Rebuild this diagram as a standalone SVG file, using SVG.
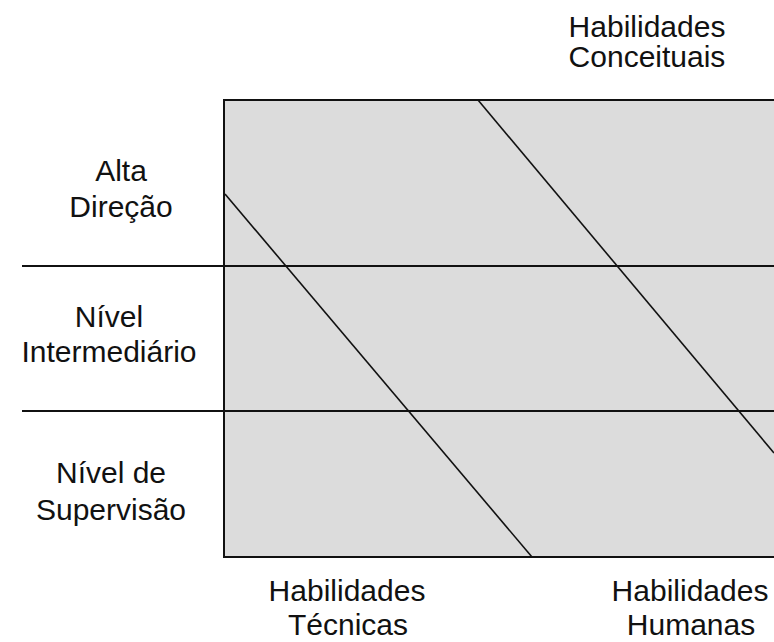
<svg xmlns="http://www.w3.org/2000/svg" width="774" height="642" viewBox="0 0 774 642">
  <style>
    .lbl { font-family: "Liberation Sans", Arial, sans-serif; font-size: 30px; fill: #111; text-anchor: middle; }
    .edge { stroke: #111; stroke-width: 2; fill: none; }
    .diag { stroke: #111; stroke-width: 1.6; fill: none; }
  </style>
  <rect width="774" height="642" fill="#ffffff"/>
  <g id="matrix">
    <rect x="224" y="100" width="560" height="457" fill="#dcdcdc" stroke="#111" stroke-width="2"/>
  </g>
  <g id="connectors">
    <line class="edge" x1="22" y1="266" x2="774" y2="266"/>
    <line class="edge" x1="22" y1="411" x2="774" y2="411"/>
    <line class="diag" x1="225" y1="194" x2="532" y2="557"/>
    <line class="diag" x1="478" y1="100" x2="774" y2="453"/>
  </g>
  <g id="label-conceituais">
    <text class="lbl" x="647" y="37">Habilidades</text>
    <text class="lbl" x="647" y="67">Conceituais</text>
  </g>
  <g id="label-alta">
    <text class="lbl" x="121" y="181">Alta</text>
    <text class="lbl" x="121" y="217">Direção</text>
  </g>
  <g id="label-intermediario">
    <text class="lbl" x="109" y="327">Nível</text>
    <text class="lbl" x="109" y="362">Intermediário</text>
  </g>
  <g id="label-supervisao">
    <text class="lbl" x="111" y="483">Nível de</text>
    <text class="lbl" x="111" y="520">Supervisão</text>
  </g>
  <g id="label-tecnicas">
    <text class="lbl" x="347" y="601">Habilidades</text>
    <text class="lbl" x="348" y="635">Técnicas</text>
  </g>
  <g id="label-humanas">
    <text class="lbl" x="690" y="601">Habilidades</text>
    <text class="lbl" x="691" y="635">Humanas</text>
  </g>
</svg>
